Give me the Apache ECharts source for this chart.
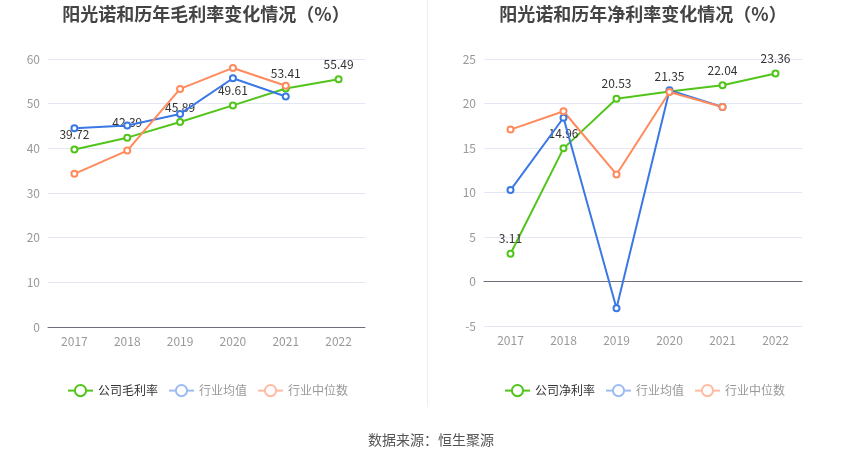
<!DOCTYPE html>
<html><head><meta charset="utf-8">
<script src="https://cdn.jsdelivr.net/npm/echarts@6/dist/echarts.min.js"></script>
<style>html,body{margin:0;padding:0;background:#fff}#c{width:850px;height:459px}</style>
</head><body><div id="c"></div>
<script>
const years = ['2017','2018','2019','2020','2021','2022'];
const grossCompany = [39.72, 42.39, 45.89, 49.61, 53.41, 55.49];
const grossIndAvg = [44.5, 45.1, 47.7, 55.7, 51.6];
const grossIndMed = [34.3, 39.5, 53.3, 58.0, 54.0];
const netCompany = [3.11, 14.96, 20.53, 21.35, 22.04, 23.36];
const netIndAvg = [10.27, 18.4, -3.0, 21.5, 19.6];
const netIndMed = [17.07, 19.13, 12.03, 21.3, 19.6];
const leftTicks = {min: 0, max: 60, interval: 10};
const rightTicks = {min: -5, max: 25, interval: 5};

const GREEN = '#52c41a', BLUE = '#3a78e6', ORANGE = '#ff8a5b';
const FONT = '"Noto Sans CJK SC", "Noto Sans", sans-serif';
const chart = echarts.init(document.getElementById('c'));

function line(name, data, color, xi, yi, withLabel) {
  return {
    name, type: 'line', data, xAxisIndex: xi, yAxisIndex: yi,
    symbol: 'emptyCircle', symbolSize: 6,
    lineStyle: {width: 2, color}, itemStyle: {color},
    label: withLabel ? {show: true, position: 'top', color: '#333', fontSize: 12, fontFamily: FONT} : {show: false},
    z: withLabel ? 1 : 2
  };
}
function legendData(c) {
  return [
    {name: c, textStyle: {color: '#333'}},
    {name: '行业均值', itemStyle: {color: '#9dbcf3', borderColor: '#9dbcf3'}, lineStyle: {color: '#9dbcf3'}, textStyle: {color: '#999'}},
    {name: '行业中位数', itemStyle: {color: '#ffbca3', borderColor: '#ffbca3'}, lineStyle: {color: '#ffbca3'}, textStyle: {color: '#999'}}
  ];
}
const yAxisCommon = {
  type: 'value',
  axisLabel: {color: '#999', fontSize: 12, fontFamily: FONT},
  axisLine: {show: false}, axisTick: {show: false},
  splitLine: {lineStyle: {color: '#e3e7f3'}}
};
const axisLineStyle = {lineStyle: {color: '#6e7079'}};

chart.setOption({
  animation: false,
  textStyle: {fontFamily: FONT},
  title: [
    {text: '阳光诺和历年毛利率变化情况（%）', left: 201, top: 0, textAlign: 'center', textStyle: {fontSize: 18, fontWeight: 'bold', color: '#444', fontFamily: FONT}},
    {text: '阳光诺和历年净利率变化情况（%）', left: 638, top: 0, textAlign: 'center', textStyle: {fontSize: 18, fontWeight: 'bold', color: '#444', fontFamily: FONT}},
    {text: '数据来源：恒生聚源', left: 426, top: 428, textAlign: 'center', textStyle: {fontSize: 14, fontWeight: 'normal', color: '#555', fontFamily: FONT}}
  ],
  graphic: [{type: 'line', shape: {x1: 427.5, y1: 0, x2: 427.5, y2: 407}, style: {stroke: '#eeeeee', lineWidth: 1}}],
  legend: [
    {left: 62, top: 379, itemWidth: 25, itemHeight: 14, itemGap: 10, textStyle: {fontSize: 12, color: '#333', fontFamily: FONT}, data: legendData('公司毛利率')},
    {left: 499, top: 379, itemWidth: 25, itemHeight: 14, itemGap: 10, textStyle: {fontSize: 12, color: '#333', fontFamily: FONT}, data: legendData('公司净利率')}
  ],
  grid: [
    {left: 48, right: 485, top: 59, bottom: 132},
    {left: 484, right: 48, top: 59, bottom: 133}
  ],
  xAxis: [
    {type: 'category', gridIndex: 0, data: years, boundaryGap: true,
     axisLine: axisLineStyle, axisTick: {alignWithLabel: true, lineStyle: {color: '#6e7079'}},
     axisLabel: {color: '#999', fontSize: 12, margin: 8, fontFamily: FONT}},
    {type: 'category', gridIndex: 1, data: years, boundaryGap: true, position: 'bottom',
     axisLine: {show: false, onZero: false}, axisTick: {show: false},
     axisLabel: {color: '#999', fontSize: 12, margin: 8, fontFamily: FONT}},
    {type: 'category', gridIndex: 1, data: years, boundaryGap: true,
     axisLine: {show: true, onZero: true, lineStyle: {color: '#6e7079'}},
     axisTick: {alignWithLabel: true, lineStyle: {color: '#6e7079'}},
     axisLabel: {show: false}}
  ],
  yAxis: [
    Object.assign({gridIndex: 0}, yAxisCommon, leftTicks),
    Object.assign({gridIndex: 1}, yAxisCommon, rightTicks)
  ],
  series: [
    line('公司毛利率', grossCompany, GREEN, 0, 0, true),
    line('行业均值', grossIndAvg, BLUE, 0, 0, false),
    line('行业中位数', grossIndMed, ORANGE, 0, 0, false),
    line('公司净利率', netCompany, GREEN, 1, 1, true),
    line('行业均值', netIndAvg, BLUE, 1, 1, false),
    line('行业中位数', netIndMed, ORANGE, 1, 1, false)
  ]
});
</script></body></html>
